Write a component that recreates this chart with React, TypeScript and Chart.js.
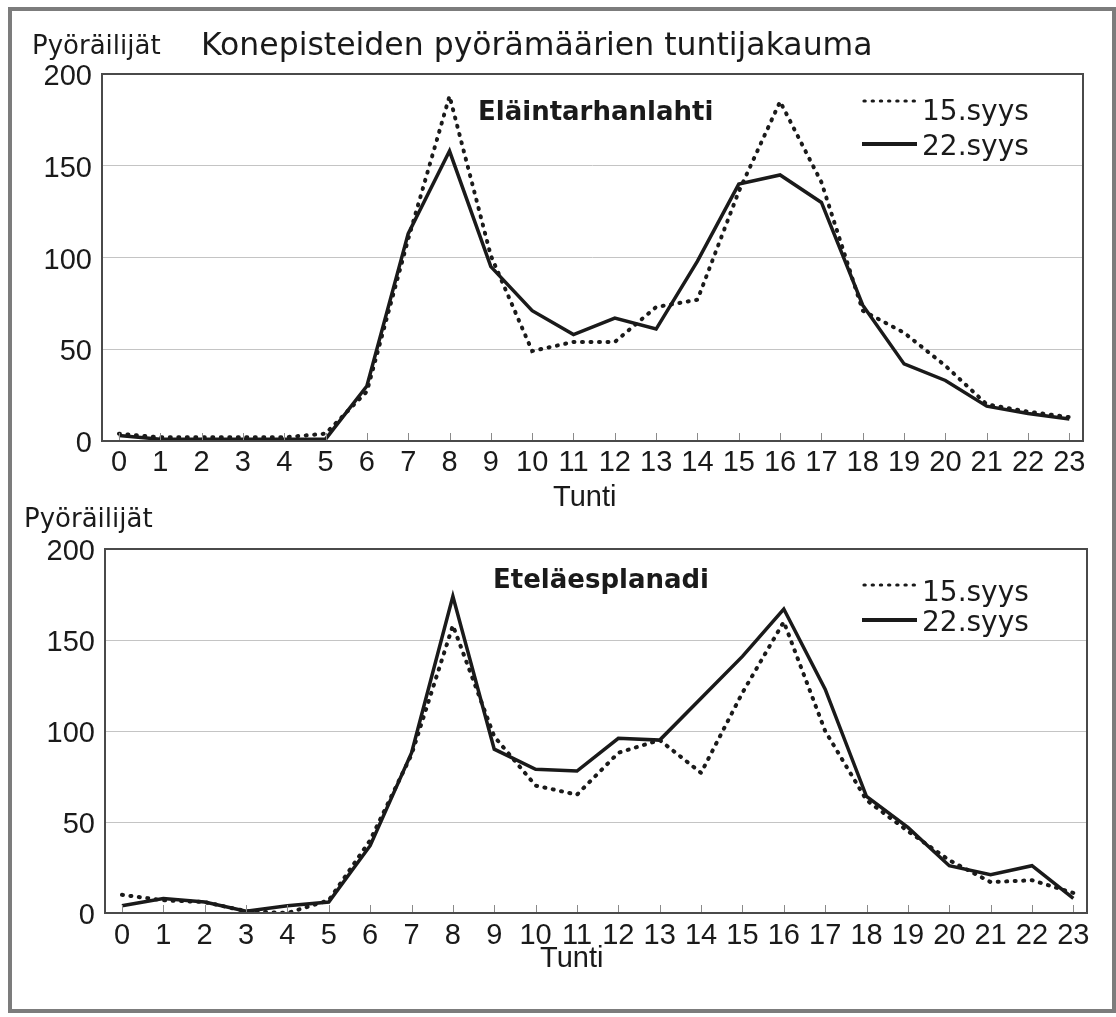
import React, { useEffect, useRef } from "react";
import { Chart, registerables } from "chart.js";

Chart.register(...registerables);

// ---------- data ----------
const HOURS = [0, 1, 2, 3, 4, 5, 6, 7, 8, 9, 10, 11, 12, 13, 14, 15, 16, 17, 18, 19, 20, 21, 22, 23];
const HOUR_TICK_LABELS = ["0", "1", "2", "3", "4", "5", "6", "7", "8", "9", "10", "11", "12", "13", "14", "15", "16", "17", "18", "19", "20", "21", "22", "23"];
const Y_TICKS = [0, 50, 100, 150, 200];
const SERIES_NAMES = ["15.syys", "22.syys"];

const MAIN_TITLE = "Konepisteiden pyörämäärien tuntijakauma";
const Y_TITLE = "Pyöräilijät";
const X_TITLE = "Tunti";
const SITE_NAMES = ["Eläintarhanlahti", "Eteläesplanadi"];

const ELAINTARHA_15 = [4, 2, 2, 2, 2, 4, 27, 110, 188, 101, 49, 54, 54, 73, 77, 136, 185, 141, 71, 59, 41, 20, 16, 13];
const ELAINTARHA_22 = [3, 1, 1, 1, 1, 1, 30, 113, 158, 95, 71, 58, 67, 61, 98, 140, 145, 130, 74, 42, 33, 19, 15, 12];
const ESPLANADI_15 = [10, 7, 6, 1, 0, 7, 40, 87, 158, 97, 70, 65, 88, 95, 77, 121, 160, 100, 62, 45, 29, 17, 18, 11];
const ESPLANADI_22 = [4, 8, 6, 1, 4, 6, 37, 88, 174, 90, 79, 78, 96, 95, 118, 141, 167, 123, 64, 47, 26, 21, 26, 8];

// ---------- layout / style ----------
const PAGE_W = 1116;
const PAGE_H = 1017;
const INK = "#1a1a1a";
const TEXT_FONT = '"DejaVu Sans"';
const TICK_FONT = '"Liberation Sans"';

type TextItem = { text: string; x: number; y: number; size: number; bold?: boolean; family?: string };

type PanelCfg = {
  top: number;
  height: number;
  area: { left: number; right: number; top: number; bottom: number };
  xPad: number;
  series15: number[];
  series22: number[];
  texts: TextItem[];
  legend: { x1: number; x2: number; dotY: number; solidY: number };
};

const PANELS: PanelCfg[] = [
  {
    top: 0,
    height: 520,
    area: { left: 102, right: 1083, top: 74, bottom: 441 },
    xPad: 5,
    series15: ELAINTARHA_15,
    series22: ELAINTARHA_22,
    texts: [
      { text: Y_TITLE, x: 32, y: 54, size: 26 },
      { text: MAIN_TITLE, x: 201, y: 55, size: 31.5 },
      { text: SITE_NAMES[0], x: 478, y: 120, size: 26, bold: true },
      { text: SERIES_NAMES[0], x: 922, y: 120, size: 28 },
      { text: SERIES_NAMES[1], x: 922, y: 155, size: 28 },
      { text: X_TITLE, x: 553, y: 506, size: 29, family: TICK_FONT },
    ],
    legend: { x1: 862, x2: 917, dotY: 101, solidY: 144 },
  },
  {
    top: 495,
    height: 522,
    area: { left: 105, right: 1087, top: 549, bottom: 913 },
    xPad: 6,
    series15: ESPLANADI_15,
    series22: ESPLANADI_22,
    texts: [
      { text: Y_TITLE, x: 24, y: 527, size: 26 },
      { text: SITE_NAMES[1], x: 493, y: 588, size: 26, bold: true },
      { text: SERIES_NAMES[0], x: 922, y: 601, size: 28 },
      { text: SERIES_NAMES[1], x: 922, y: 631, size: 28 },
      { text: X_TITLE, x: 540, y: 967, size: 29, family: TICK_FONT },
    ],
    legend: { x1: 862, x2: 917, dotY: 585, solidY: 620 },
  },
];

function makeDecor(cfg: PanelCfg) {
  return {
    id: "decor",
    afterDraw(chart: any) {
      const { ctx, chartArea: a } = chart;
      const xs = chart.scales.x;
      const off = cfg.top;
      ctx.save();
      // inward tick marks on x axis
      ctx.strokeStyle = "#8a8a8a";
      ctx.lineWidth = 1;
      xs.ticks.forEach((t: any) => {
        const px = Math.round(xs.getPixelForValue(t.value)) + 0.5;
        ctx.beginPath();
        ctx.moveTo(px, a.bottom);
        ctx.lineTo(px, a.bottom - 8);
        ctx.stroke();
      });
      // frame
      ctx.strokeStyle = "#4a4a4a";
      ctx.lineWidth = 2;
      ctx.strokeRect(a.left, a.top, a.right - a.left, a.bottom - a.top);
      // texts
      ctx.fillStyle = INK;
      ctx.textBaseline = "alphabetic";
      ctx.textAlign = "left";
      cfg.texts.forEach((t) => {
        ctx.font = `${t.bold ? "bold " : ""}${t.size}px ${t.family || TEXT_FONT}`;
        ctx.fillText(t.text, t.x, t.y - off);
      });
      // legend samples
      const lg = cfg.legend;
      ctx.strokeStyle = INK;
      ctx.lineCap = "round";
      ctx.lineWidth = 3.2;
      ctx.setLineDash([1.2, 7]);
      ctx.beginPath();
      ctx.moveTo(lg.x1 + 2, lg.dotY - off);
      ctx.lineTo(lg.x2, lg.dotY - off);
      ctx.stroke();
      ctx.setLineDash([]);
      ctx.lineCap = "butt";
      ctx.lineWidth = 4;
      ctx.beginPath();
      ctx.moveTo(lg.x1, lg.solidY - off);
      ctx.lineTo(lg.x2, lg.solidY - off);
      ctx.stroke();
      ctx.restore();
    },
  };
}

function Panel({ cfg }: { cfg: PanelCfg }) {
  const ref = useRef<HTMLCanvasElement | null>(null);
  useEffect(() => {
    if (!ref.current) return;
    const a = cfg.area;
    const chart = new Chart(ref.current, {
      type: "line",
      data: {
        labels: HOURS,
        datasets: [
          {
            label: SERIES_NAMES[0],
            data: cfg.series15,
            borderColor: INK,
            borderWidth: 4,
            borderDash: [1, 7.5],
            borderCapStyle: "round",
            pointRadius: 0,
            tension: 0,
            fill: false,
          },
          {
            label: SERIES_NAMES[1],
            data: cfg.series22,
            borderColor: INK,
            borderWidth: 3.5,
            borderJoinStyle: "miter",
            pointRadius: 0,
            tension: 0,
            fill: false,
          },
        ],
      },
      options: {
        responsive: false,
        maintainAspectRatio: false,
        devicePixelRatio: 1,
        animation: false,
        events: [],
        layout: { padding: { top: a.top - cfg.top, right: PAGE_W - a.right, left: 0, bottom: 0 } },
        plugins: { legend: { display: false }, tooltip: { enabled: false }, title: { display: false } },
        scales: {
          x: {
            type: "linear",
            min: -0.41,
            max: 23.33,
            grid: { display: false, drawTicks: false },
            border: { display: false },
            afterBuildTicks: (s: any) => {
              s.ticks = HOURS.map((h) => ({ value: h }));
            },
            afterFit: (s: any) => {
              s.height = cfg.top + cfg.height - a.bottom;
              s.paddingLeft = 0;
              s.paddingRight = 0;
            },
            ticks: {
              autoSkip: false,
              maxRotation: 0,
              padding: cfg.xPad,
              color: INK,
              font: { family: "Liberation Sans", size: 29 },
              callback: (v: any) => HOUR_TICK_LABELS[HOURS.indexOf(Number(v))],
            },
          },
          y: {
            min: 0,
            max: 200,
            grid: {
              drawTicks: false,
              color: (c: any) => (c.tick && (c.tick.value === Y_TICKS[0] || c.tick.value === Y_TICKS[Y_TICKS.length - 1]) ? "rgba(0,0,0,0)" : "#c4c4c4"),
              lineWidth: 1,
            },
            border: { display: false },
            afterBuildTicks: (s: any) => {
              s.ticks = Y_TICKS.map((v) => ({ value: v }));
            },
            afterFit: (s: any) => {
              s.width = a.left;
              s.paddingTop = 0;
              s.paddingBottom = 0;
            },
            ticks: {
              padding: 10,
              labelOffset: 3,
              color: INK,
              font: { family: "Liberation Sans", size: 29 },
              callback: (v: any) => String(v),
            },
          },
        },
      },
      plugins: [makeDecor(cfg)],
    } as any);
    return () => chart.destroy();
  }, [cfg]);
  return (
    <canvas
      ref={ref}
      width={PAGE_W}
      height={cfg.height}
      style={{ position: "absolute", left: 0, top: cfg.top, width: PAGE_W, height: cfg.height, display: "block" }}
    />
  );
}

export default function App() {
  return (
    <div style={{ position: "absolute", left: 0, top: 0, width: PAGE_W, height: PAGE_H, background: "#fff", overflow: "hidden" }}>
      {PANELS.map((p, i) => (
        <Panel key={i} cfg={p} />
      ))}
      <div
        style={{
          position: "absolute",
          left: 8,
          top: 7,
          width: PAGE_W - 8 - 8,
          height: 1013 - 7 - 8,
          border: "4px solid #7c7c7c",
          pointerEvents: "none",
        }}
      />
    </div>
  );
}
